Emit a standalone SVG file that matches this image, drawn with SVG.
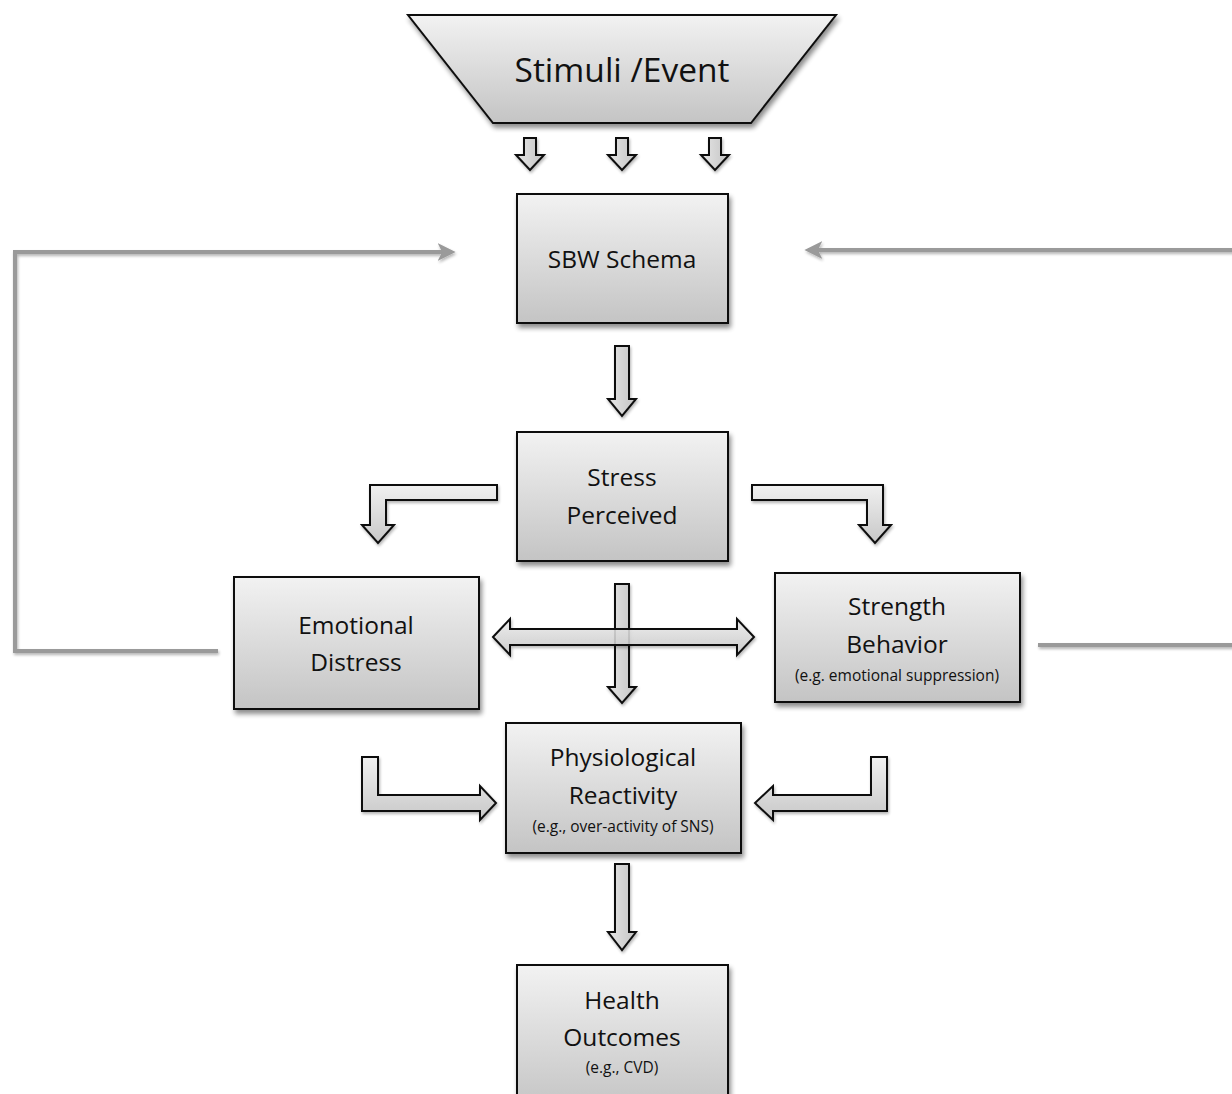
<svg xmlns="http://www.w3.org/2000/svg" width="1232" height="1094" viewBox="0 0 1232 1094">
<defs>
<linearGradient id="gBox" x1="0" y1="0" x2="0" y2="1">
<stop offset="0" stop-color="#f2f2f2"/>
<stop offset="1" stop-color="#c4c4c4"/>
</linearGradient>
<linearGradient id="gArr" x1="0" y1="0" x2="0" y2="1">
<stop offset="0" stop-color="#f0f0f0"/>
<stop offset="1" stop-color="#c8c8c8"/>
</linearGradient>
<linearGradient id="gArrV" x1="0" y1="0" x2="1" y2="0">
<stop offset="0" stop-color="#e6e6e6"/>
<stop offset="1" stop-color="#c4c4c4"/>
</linearGradient>
<filter id="sh" x="-10%" y="-10%" width="125%" height="130%">
<feGaussianBlur in="SourceAlpha" stdDeviation="2.5"/>
<feOffset dx="2" dy="4" result="b"/>
<feComponentTransfer><feFuncA type="linear" slope="0.45"/></feComponentTransfer>
<feMerge><feMergeNode/><feMergeNode in="SourceGraphic"/></feMerge>
</filter>
<filter id="shl" filterUnits="userSpaceOnUse" x="0" y="0" width="1232" height="1094">
<feGaussianBlur in="SourceAlpha" stdDeviation="1.5"/>
<feOffset dx="1" dy="2"/>
<feComponentTransfer><feFuncA type="linear" slope="0.3"/></feComponentTransfer>
<feMerge><feMergeNode/><feMergeNode in="SourceGraphic"/></feMerge>
</filter>
<marker id="gh" viewBox="0 0 10 10" refX="8" refY="5" markerWidth="4.5" markerHeight="4.5" orient="auto" markerUnits="strokeWidth">
<path d="M0,0 L10,5 L0,10 L2.5,5 Z" fill="#9a9a9a"/>
</marker>
<style>
.box{fill:url(#gBox);stroke:#111;stroke-width:2;filter:url(#sh)}
.arr{fill:url(#gArr);stroke:#111;stroke-width:2;stroke-linejoin:miter;filter:url(#shl)}
.arrv{fill:url(#gArrV);stroke:#111;stroke-width:2;stroke-linejoin:miter;filter:url(#shl)}
.fb{fill:none;stroke:#9a9a9a;stroke-width:4;filter:url(#shl)}
text{font-family:"Open Sans","Noto Sans","Liberation Sans",sans-serif;fill:#111;text-anchor:middle}
.t{font-size:24.5px}
.s{font-size:15.5px}
</style>
</defs>

<g id="connectors">
<path class="fb" d="M218,651 L15,651 L15,252 L452,252" marker-end="url(#gh)"/>
<path class="fb" d="M1240,250 L808,250" marker-end="url(#gh)"/>
<path class="fb" d="M1038,645 L1240,645"/>
<path class="arrv" d="M524,138 L536,138 L536,155 L544,155 L530,170 L516,155 L524,155 Z"/>
<path class="arrv" d="M616,138 L628,138 L628,155 L636,155 L622,170 L608,155 L616,155 Z"/>
<path class="arrv" d="M709,138 L721,138 L721,155 L729,155 L715,170 L701,155 L709,155 Z"/>
<path class="arrv" d="M615,346 L629,346 L629,399 L636,399 L622,416 L608,399 L615,399 Z"/>
<path class="arr" d="M497,485 L370,485 L370,525 L362,525 L378,543 L394,525 L386,525 L386,500 L497,500 Z"/>
<path class="arr" d="M752,485 L883,485 L883,525 L891,525 L875,543 L859,525 L867,525 L867,500 L752,500 Z"/>
<path class="arrv" d="M615,584 L629,584 L629,687 L636,687 L622,703 L608,687 L615,687 Z"/>
<path class="arr" d="M493,637 L510,619 L510,629 L737,629 L737,619 L754,637 L737,655 L737,645 L510,645 L510,655 Z" fill-opacity="0.85"/>
<path class="arr" d="M362,757 L378,757 L378,795 L480,795 L480,786 L496,803 L480,820 L480,811 L362,811 Z"/>
<path class="arr" d="M887,757 L871,757 L871,795 L773,795 L773,786 L755,803 L773,820 L773,811 L887,811 Z"/>
<path class="arrv" d="M615,864 L629,864 L629,932 L636,932 L622,950 L608,932 L615,932 Z"/>
</g>

<g id="stimuli">
<path class="box" d="M408,15 L836,15 L751,123 L493,123 Z"/>
<text x="622" y="82" style="font-size:33.5px">Stimuli /Event</text>
</g>

<g id="sbw">
<rect class="box" x="517" y="194" width="211" height="129"/>
<text class="t" x="622" y="268">SBW Schema</text>
</g>

<g id="stress">
<rect class="box" x="517" y="432" width="211" height="129"/>
<text class="t" x="622" y="486">Stress</text>
<text class="t" x="622" y="524">Perceived</text>
</g>

<g id="emotional">
<rect class="box" x="234" y="577" width="245" height="132"/>
<text class="t" x="356" y="634">Emotional</text>
<text class="t" x="356" y="671">Distress</text>
</g>

<g id="strength">
<rect class="box" x="775" y="573" width="245" height="129"/>
<text class="t" x="897" y="615">Strength</text>
<text class="t" x="897" y="653">Behavior</text>
<text class="s" x="897" y="681">(e.g. emotional suppression)</text>
</g>

<g id="physio">
<rect class="box" x="506" y="723" width="235" height="130"/>
<text class="t" x="623" y="766">Physiological</text>
<text class="t" x="623" y="804">Reactivity</text>
<text class="s" x="623" y="832">(e.g., over-activity of SNS)</text>
</g>

<g id="health">
<rect class="box" x="517" y="965" width="211" height="145"/>
<text class="t" x="622" y="1009">Health</text>
<text class="t" x="622" y="1046">Outcomes</text>
<text class="s" x="622" y="1073">(e.g., CVD)</text>
</g>
</svg>
